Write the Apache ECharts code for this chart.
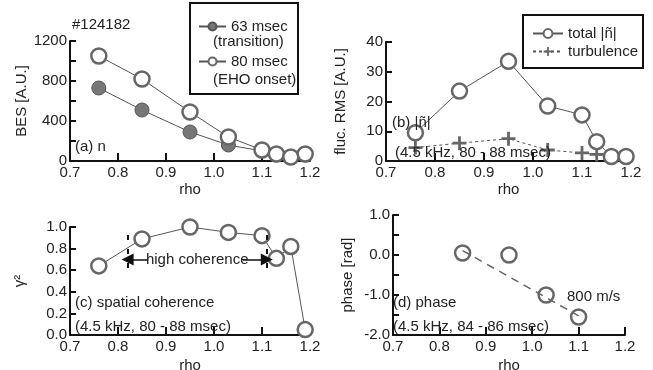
<!DOCTYPE html>
<html>
<head>
<meta charset="utf-8">
<script src="https://cdn.jsdelivr.net/npm/echarts@6/dist/echarts.min.js"></script>
<style>
  html, body { margin: 0; padding: 0; background: #fff; }
  #chart { width: 653px; height: 370px; }
</style>
</head>
<body>
<div id="chart"></div>
<script>
// radial positions (rho) of the channels
const rho = [0.76, 0.85, 0.95, 1.03, 1.10, 1.13, 1.16, 1.19];

// (a) BES intensity
const bes63 = [730, 510, 290, 160, 100, 60, 40, 60];
const bes80 = [1050, 820, 490, 240, 110, 70, 40, 70];

// (b) fluctuation RMS
const rmsTotal = [9.5, 23.5, 33.5, 18.5, 15.5, 6.5, 1.5, 1.5];
const rmsTurb = [4.5, 6, 7.5, 3.7, 2.7, 2.2, 1.2, 1.2];

// (c) spatial coherence
const coherence = [0.64, 0.89, 1.0, 0.95, 0.92, 0.71, 0.82, 0.05];
const highCoherence = [0.82, 1.11]; // rho range
const highCoherenceY = 0.70;

// (d) phase
const phaseRho = [0.85, 0.95, 1.03, 1.10];
const phase = [0.05, 0.0, -1.0, -1.55];
const phaseFit = [[0.85, 0.11], [1.10, -1.52]];

const FONT = '"Liberation Sans", Arial, sans-serif';
const INK = '#222';

const pairs = (xs, ys) => xs.map((x, i) => [x, ys[i]]);

const chart = echarts.init(document.getElementById('chart'));

function xAxis(gridIndex, nameGap) {
  return {
    type: 'value', gridIndex,
    min: 0.7, max: 1.2, interval: 0.1,
    name: 'rho', nameLocation: 'middle', nameGap,
    nameTextStyle: { fontSize: 15, color: INK, fontFamily: FONT },
    axisLine: { onZero: false, lineStyle: { color: '#111', width: 2 } },
    axisTick: { inside: true, length: 8, lineStyle: { color: '#111', width: 2 } },
    axisLabel: { fontSize: 15, color: INK, fontFamily: FONT, margin: 4,
      formatter: v => v.toFixed(1) },
    splitLine: { show: false }
  };
}

function yAxis(gridIndex, name, nameGap, min, max, interval, fmt) {
  return {
    type: 'value', gridIndex, min, max, interval,
    name, nameLocation: 'middle', nameGap,
    nameTextStyle: { fontSize: 15, color: INK, fontFamily: FONT },
    axisLine: { onZero: false, lineStyle: { color: '#111', width: 2 } },
    axisTick: { inside: true, length: 6, lineStyle: { color: '#111', width: 2 } },
    axisLabel: { fontSize: 15, color: INK, fontFamily: FONT, margin: 3, formatter: fmt },
    splitLine: { show: false }
  };
}

const openCircle = {
  symbol: 'circle', symbolSize: 15,
  itemStyle: { color: '#fff', borderColor: '#666', borderWidth: 2.5 },
  lineStyle: { color: '#555', width: 1 }
};

function txt(x, y, s) {
  return { type: 'text', x, y, z: 50,
    style: { text: s, font: '15px ' + FONT, fill: INK, verticalAlign: 'middle', align: 'left' } };
}

const option = {
  animation: false,
  backgroundColor: '#fff',
  grid: [
    { left: 70, top: 41, width: 240, height: 120, outerBoundsMode: 'none' },
    { left: 386, top: 42, width: 245, height: 119, outerBoundsMode: 'none' },
    { left: 70, top: 227, width: 240, height: 108, outerBoundsMode: 'none' },
    { left: 393, top: 215, width: 232, height: 120, outerBoundsMode: 'none' }
  ],
  xAxis: [xAxis(0, 21), xAxis(1, 21), xAxis(2, 23), xAxis(3, 23)],
  yAxis: [
    yAxis(0, 'BES [A.U.]', 39, 0, 1200, 200, v => (v % 400 === 0 ? String(v) : '')),
    yAxis(1, 'fluc. RMS [A.U.]', 38, 0, 40, 10, v => String(v)),
    yAxis(2, 'γ²', 43, 0, 1.0, 0.2, v => v.toFixed(1)),
    yAxis(3, 'phase [rad]', 38, -2, 1, 0.5,
      v => (Math.abs(v - Math.round(v)) < 1e-6 ? v.toFixed(1) : ''))
  ],
  legend: [
    {
      data: ['63 msec', '80 msec'], orient: 'vertical',
      left: 193, top: 14, itemGap: 20, itemWidth: 27, itemHeight: 10,
      textStyle: { fontSize: 15, color: INK, fontFamily: FONT }
    },
    {
      data: ['total |ñ|', 'turbulence'], orient: 'vertical',
      left: 527, top: 21, itemGap: 3, itemWidth: 30, itemHeight: 11,
      textStyle: { fontSize: 15, color: INK, fontFamily: FONT }
    }
  ],
  graphic: [
    { type: 'rect', shape: { x: 190, y: 3, width: 108, height: 91 },
      style: { fill: 'none', stroke: '#111', lineWidth: 2 }, z: 40 },
    { type: 'rect', shape: { x: 523, y: 15, width: 120, height: 53 },
      style: { fill: 'none', stroke: '#111', lineWidth: 2 }, z: 40 },
    txt(72, 25, '#124182'),
    txt(213, 42, '(transition)'),
    txt(213, 80, '(EHO onset)'),
    txt(75, 147, '(a) n'),
    txt(392, 123, '(b) |ñ|'),
    txt(395, 153, '(4.5 kHz, 80 - 88 msec)'),
    txt(75, 303, '(c) spatial coherence'),
    txt(75, 327, '(4.5 kHz, 80 - 88 msec)'),
    txt(393, 303, '(d) phase'),
    txt(393, 327, '(4.5 kHz, 84 - 86 msec)'),
    txt(567, 297, '800 m/s')
  ],
  series: [
    {
      name: '63 msec', type: 'line', xAxisIndex: 0, yAxisIndex: 0,
      data: pairs(rho, bes63),
      symbol: 'circle', symbolSize: 14,
      itemStyle: { color: '#777', borderColor: '#555', borderWidth: 1 },
      lineStyle: { color: '#555', width: 1 }
    },
    Object.assign({ name: '80 msec', type: 'line', xAxisIndex: 0, yAxisIndex: 0,
      data: pairs(rho, bes80) }, openCircle),
    {
      name: 'turbulence', type: 'line', xAxisIndex: 1, yAxisIndex: 1,
      data: pairs(rho, rmsTurb),
      symbol: 'path://M4,0H6V4H10V6H6V10H4V6H0V4H4Z', symbolSize: 14,
      itemStyle: { color: '#666' },
      lineStyle: { color: '#555', width: 1, type: [3, 3] }
    },
    Object.assign({ name: 'total |ñ|', type: 'line', xAxisIndex: 1, yAxisIndex: 1,
      data: pairs(rho, rmsTotal) }, openCircle),
    Object.assign({ name: 'coherence', type: 'line', xAxisIndex: 2, yAxisIndex: 2,
      data: pairs(rho, coherence),
      markLine: {
        silent: true, symbol: 'none', animation: false,
        label: { show: false },
        lineStyle: { color: '#111', width: 2, type: [5, 9] },
        data: [
          [{ coord: [highCoherence[0], 0.62] }, { coord: [highCoherence[0], 0.98] }],
          [{ coord: [highCoherence[1], 0.62] }, { coord: [highCoherence[1], 0.98] }],
          [{ coord: [0.863, highCoherenceY], symbol: 'none', lineStyle: { type: 'solid', width: 1.5 } },
           { coord: [highCoherence[0], highCoherenceY], symbol: 'triangle', symbolSize: 12, symbolRotate: 90,
             lineStyle: { type: 'solid', width: 1.5 } }],
          [{ coord: [1.06, highCoherenceY], symbol: 'none', lineStyle: { type: 'solid', width: 1.5 } },
           { coord: [highCoherence[1], highCoherenceY], symbol: 'triangle', symbolSize: 12, symbolRotate: -90,
             lineStyle: { type: 'solid', width: 1.5 } }]
        ]
      },
      markPoint: {
        silent: true, symbol: 'circle', symbolSize: 1, itemStyle: { color: 'transparent' },
        label: { show: true, position: 'inside', fontSize: 15, color: INK, fontFamily: FONT },
        data: [{ coord: [(highCoherence[0] + highCoherence[1]) / 2, highCoherenceY],
          value: 'high coherence', label: { formatter: 'high coherence' } }]
      }
    }, openCircle),
    {
      name: 'fit', type: 'line', xAxisIndex: 3, yAxisIndex: 3,
      data: phaseFit, symbol: 'none',
      lineStyle: { color: '#666', width: 1.5, type: [8, 6] }
    },
    {
      name: 'phase', type: 'scatter', xAxisIndex: 3, yAxisIndex: 3,
      data: pairs(phaseRho, phase),
      symbol: 'circle', symbolSize: 15,
      itemStyle: { color: '#fff', borderColor: '#666', borderWidth: 2.5, opacity: 1 }
    }
  ]
};

chart.setOption(option);
</script>
</body>
</html>
